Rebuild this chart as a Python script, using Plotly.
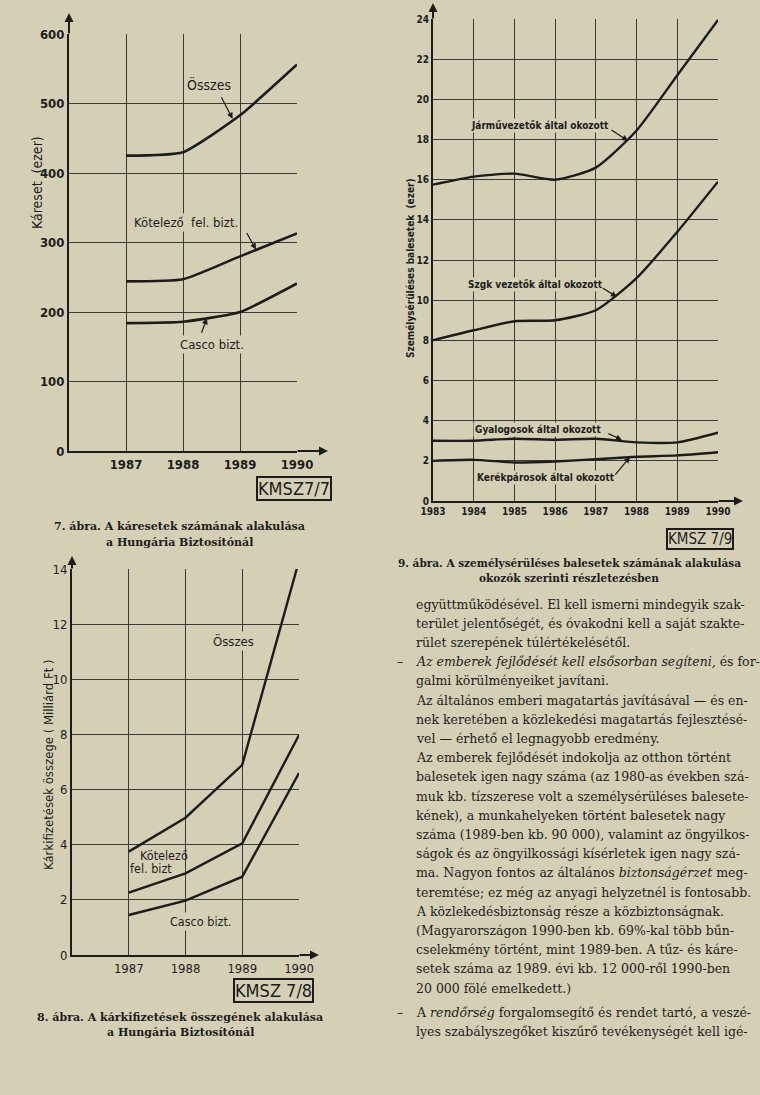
import plotly.graph_objects as go

W, H = 760, 1095
BG = "#d5d0b5"
INK = "#1c1c1c"
GRID = "#3a3a3a"
NARROW = "Liberation Sans Narrow, DejaVu Sans Condensed, Arial Narrow, sans-serif"
SERIF = "DejaVu Serif, Liberation Serif, serif"

# ---------------- data: 7. ábra ----------------
years7 = [1987, 1988, 1989, 1990]
osszes7 = [425, 430, 483, 556]
kotelezo7 = [244, 247, 280, 313]
casco7 = [184, 186, 200, 241]
yticks7 = [0, 100, 200, 300, 400, 500, 600]

# ---------------- data: 9. ábra ----------------
years9 = [1983, 1984, 1985, 1986, 1987, 1988, 1989, 1990]
jarmu9 = [15.75, 16.15, 16.3, 16.0, 16.6, 18.45, 21.2, 23.95]
szgk9 = [8.0, 8.5, 8.95, 9.0, 9.5, 11.1, 13.4, 15.9]
gyalog9 = [3.0, 3.0, 3.1, 3.05, 3.1, 2.92, 2.92, 3.4]
kerekp9 = [2.0, 2.05, 1.92, 1.97, 2.08, 2.2, 2.27, 2.43]
yticks9 = [0, 2, 4, 6, 8, 10, 12, 14, 16, 18, 20, 22, 24]

# ---------------- data: 8. ábra ----------------
years8 = [1987, 1988, 1989, 1990]
osszes8 = [3.75, 4.98, 6.9, 14.3]
kotelezo8 = [2.26, 2.96, 4.05, 7.98]
casco8 = [1.45, 1.97, 2.84, 6.6]
yticks8 = [0, 2, 4, 6, 8, 10, 12, 14]

text_lines = [
    "együttműködésével. El kell ismerni mindegyik szak-",
    "terület jelentőségét, és óvakodni kell a saját szakte-",
    "rület szerepének túlértékelésétől.",
    "<i>Az emberek fejlődését kell elsősorban segíteni,</i> és for-",
    "galmi körülményeiket javítani.",
    "Az általános emberi magatartás javításával — és en-",
    "nek keretében a közlekedési magatartás fejlesztésé-",
    "vel — érhető el legnagyobb eredmény.",
    "Az emberek fejlődését indokolja az otthon történt",
    "balesetek igen nagy száma (az 1980-as években szá-",
    "muk kb. tízszerese volt a személysérüléses balesete-",
    "kének), a munkahelyeken történt balesetek nagy",
    "száma (1989-ben kb. 90 000), valamint az öngyilkos-",
    "ságok és az öngyilkossági kísérletek igen nagy szá-",
    "ma. Nagyon fontos az általános <i>biztonságérzet</i> meg-",
    "teremtése; ez még az anyagi helyzetnél is fontosabb.",
    "A közlekedésbiztonság része a közbiztonságnak.",
    "(Magyarországon 1990-ben kb. 69%-kal több bűn-",
    "cselekmény történt, mint 1989-ben. A tűz- és káre-",
    "setek száma az 1989. évi kb. 12 000-ről 1990-ben",
    "20 000 fölé emelkedett.)",
    "A <i>rendőrség</i> forgalomsegítő és rendet tartó, a veszé-",
    "lyes szabályszegőket kiszűrő tevékenységét kell igé-",
]
dash_lines = [3, 21]


def px(x):
    return x / W


def py(y):
    return 1 - y / H


fig = go.Figure()

for ys in (osszes7, kotelezo7, casco7):
    fig.add_trace(go.Scatter(x=years7, y=ys, mode="lines", xaxis="x", yaxis="y",
                             line=dict(color=INK, width=2.6, shape="spline", smoothing=0.5),
                             showlegend=False, hoverinfo="skip"))
for ys in (jarmu9, szgk9, gyalog9, kerekp9):
    fig.add_trace(go.Scatter(x=years9, y=ys, mode="lines", xaxis="x2", yaxis="y2",
                             line=dict(color=INK, width=2.4, shape="spline", smoothing=0.6),
                             showlegend=False, hoverinfo="skip"))
for ys in (osszes8, kotelezo8, casco8):
    fig.add_trace(go.Scatter(x=years8, y=ys, mode="lines", xaxis="x3", yaxis="y3",
                             line=dict(color=INK, width=2.4),
                             showlegend=False, hoverinfo="skip"))


def xax(dom, rng, vals, font, anchor):
    return dict(domain=[px(dom[0]), px(dom[1])], range=rng, tickvals=vals,
                ticktext=[str(v) for v in vals], showgrid=True, gridcolor=GRID,
                gridwidth=1, zeroline=False, showline=True, linecolor=INK,
                linewidth=2, ticks="", tickfont=font, anchor=anchor,
                automargin=False, fixedrange=True)


def yax(dom, rng, vals, font, anchor):
    return dict(domain=[py(dom[1]), py(dom[0])], range=rng, tickvals=vals,
                ticktext=[str(v) for v in vals], showgrid=True, gridcolor=GRID,
                gridwidth=1, zeroline=False, showline=True, linecolor=INK,
                linewidth=2, ticks="", tickfont=font, anchor=anchor,
                automargin=False, fixedrange=True)


f7 = dict(family=NARROW, size=13, color=INK, weight="bold")
f9 = dict(family=NARROW, size=10, color=INK, weight="bold")
f8 = dict(family=NARROW, size=13, color=INK)

fig.update_layout(
    width=W, height=H, autosize=False,
    margin=dict(l=0, r=0, t=0, b=0, pad=0),
    paper_bgcolor=BG, plot_bgcolor=BG,
    xaxis=xax((69, 297), [1986, 1990], years7, f7, "y"),
    yaxis=yax((34, 451), [0, 600], yticks7, f7, "x"),
    xaxis2=xax((433, 718), [1983, 1990], years9, f9, "y2"),
    yaxis2=yax((19, 501), [0, 24], yticks9, f9, "x2"),
    xaxis3=xax((72, 299), [1986, 1990], years8, f8, "y3"),
    yaxis3=yax((569, 955), [0, 14], yticks8, f8, "x3"),
)

ann = []


def text(x, y, s, size, family=NARROW, angle=0, bold=False, bg=None, xanchor="center"):
    ann.append(dict(x=px(x), y=py(y), xref="paper", yref="paper", text=s, showarrow=False,
                    textangle=angle, xanchor=xanchor, yanchor="middle",
                    font=dict(family=family, size=size, color=INK,
                              weight="bold" if bold else "normal"),
                    bgcolor=bg, borderpad=1))


def pointer(xref, yref, x, y, axp, ayp):
    ann.append(dict(x=x, y=y, xref=xref, yref=yref, ax=axp, ay=ayp, text="",
                    showarrow=True, arrowhead=2, arrowsize=1, arrowwidth=1.2,
                    arrowcolor=INK))


def axis_arrow(hx, hy, ax_, ay_):
    ann.append(dict(x=px(hx), y=py(hy), xref="paper", yref="paper", ax=ax_, ay=ay_,
                    text="", showarrow=True, arrowhead=2, arrowsize=0.9,
                    arrowwidth=2, arrowcolor=INK))


# axis arrow extensions
axis_arrow(69, 13, 0, 22)
axis_arrow(328, 451, -32, 0)
axis_arrow(433, 3, 0, 17)
axis_arrow(743, 501, -26, 0)
axis_arrow(72, 556, 0, 14)
axis_arrow(319, 955, -21, 0)

# 7. ábra labels
text(209, 85, "Összes", 14, bg=BG)
pointer("x", "y", 1988.87, 478, -12, -23)
text(186, 223, "Kötelező  fel. bizt.", 13, bg=BG)
pointer("x", "y", 1989.28, 290, -10, -18)
text(212, 345, "Casco bizt.", 13, bg=BG)
pointer("x", "y", 1988.42, 191, -6, 16)
text(37, 183, "Káreset  (ezer)", 14, angle=-90)
text(294, 488, "KMSZ7/7", 18)
ann[-1].update(bordercolor=INK, borderwidth=2, borderpad=0)
text(179, 526, "7. ábra. A káresetek számának alakulása", 11, family=SERIF, bold=True)
text(179, 542, "a Hungária Biztosítónál", 11, family=SERIF, bold=True)

# 9. ábra labels
text(540, 126, "Járművezetők által okozott", 10, bold=True, bg=BG)
pointer("x2", "y2", 1987.79, 17.93, -18, -12)
text(535, 285, "Szgk vezetők által okozott", 10, bold=True, bg=BG)
pointer("x2", "y2", 1987.52, 10.16, -16, -10)
text(538, 429, "Gyalogosok által okozott", 10, bold=True, bg=BG)
pointer("x2", "y2", 1987.64, 3.04, -15, -7)
text(546, 477, "Kerékpárosok által okozott", 10, bold=True, bg=BG)
pointer("x2", "y2", 1987.84, 2.19, -16, 19)
text(410, 268, "Személysérüléses balesetek  (ezer)", 10, angle=-90, bold=True)
text(700, 539, "KMSZ 7/9", 15)
ann[-1].update(bordercolor=INK, borderwidth=2, borderpad=0)
text(569, 563, "9. ábra. A személysérüléses balesetek számának alakulása", 10.5, family=SERIF, bold=True)
text(569, 578, "okozók szerinti részletezésben", 10.5, family=SERIF, bold=True)

# 8. ábra labels
text(233, 641, "Összes", 13, bg=BG)
text(164, 855, "Kötelező", 12.5)
text(151, 868, "fel. bizt", 12.5)
text(200, 921, "Casco bizt.", 12.5, bg=BG)
text(48, 765, "Kárkifizetések összege ( Milliárd Ft )", 13, angle=-90)
text(273, 990, "KMSZ 7/8", 18)
ann[-1].update(bordercolor=INK, borderwidth=2, borderpad=0)
text(180, 1017, "8. ábra. A kárkifizetések összegének alakulása", 11, family=SERIF, bold=True)
text(180, 1032, "a Hungária Biztosítónál", 11, family=SERIF, bold=True)

# body text
for i, line in enumerate(text_lines):
    y = 604 + 19.2 * i + (5 if i >= 21 else 0)
    text(414, y, line, 12.5, family=SERIF, xanchor="left")
    if i in dash_lines:
        text(395, y, "–", 12.5, family=SERIF, xanchor="left")

fig.update_layout(annotations=ann)

fig.write_html("out.html", config={"displayModeBar": False},
               post_script="document.body.style.margin='0';document.body.style.overflow='hidden';")
